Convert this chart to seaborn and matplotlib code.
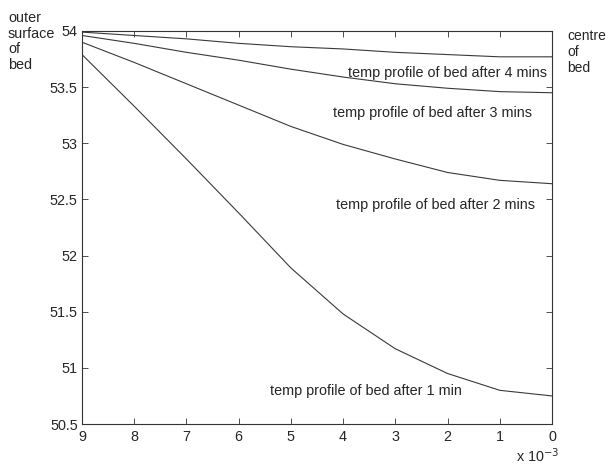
import matplotlib
matplotlib.use("Agg")
import matplotlib.pyplot as plt
import pandas as pd
import seaborn as sns

# distance from centre of bed (x 10^-3) and bed temperature at each time
depth = [9, 8, 7, 6, 5, 4, 3, 2, 1, 0]
temp_1min = [53.79, 53.33, 52.86, 52.38, 51.89, 51.48, 51.17, 50.95, 50.80, 50.75]
temp_2min = [53.90, 53.72, 53.53, 53.34, 53.15, 52.99, 52.86, 52.74, 52.67, 52.64]
temp_3min = [53.96, 53.89, 53.81, 53.74, 53.66, 53.59, 53.53, 53.49, 53.46, 53.45]
temp_4min = [53.99, 53.96, 53.93, 53.89, 53.86, 53.84, 53.81, 53.79, 53.77, 53.77]

labels = ['temp profile of bed after 1 min',
          'temp profile of bed after 2 mins',
          'temp profile of bed after 3 mins',
          'temp profile of bed after 4 mins']
label_x = [1.72, 0.32, 0.38, 0.09]
label_y = [50.79, 52.45, 53.27, 53.63]

sns.set_style("white")
plt.rcParams['font.family'] = ['Liberation Sans', 'DejaVu Sans']
fs = 10.4

fig = plt.figure(figsize=(6.09, 4.66), dpi=100)
ax = fig.add_axes([0.1346, 0.0901, 0.7718, 0.8434])

for temps in [temp_1min, temp_2min, temp_3min, temp_4min]:
    df = pd.DataFrame({'depth': depth, 'temp': temps})
    sns.lineplot(x='depth', y='temp', data=df, color='#3a3a3a',
                 linewidth=0.8, ax=ax)

for text, tx, ty in zip(labels, label_x, label_y):
    ax.text(tx, ty, text, ha='right', va='center', fontsize=fs)

ax.set_xlim(9, 0)
ax.set_ylim(50.5, 54)
ax.set_xticks(range(10))
ax.set_yticks([50.5, 51, 51.5, 52, 52.5, 53, 53.5, 54])
ax.set_yticklabels(['50.5', '51', '51.5', '52', '52.5', '53', '53.5', '54'])
ax.set_xlabel('')
ax.set_ylabel('')
ax.tick_params(direction='in', length=4, width=0.6, labelsize=fs,
               top=True, right=True, bottom=True, left=True,
               color='#333333')
ax.tick_params(axis='x', pad=4)
ax.tick_params(axis='y', pad=3)
for s in ax.spines.values():
    s.set_linewidth(0.8)
    s.set_color('#333333')
    s.set_visible(True)

fig.text(0.848, 0.022, r'x 10$^{-3}$', fontsize=fs, ha='left', va='center')
fig.text(0.013, 0.911, 'outer\nsurface\nof\nbed', fontsize=fs, ha='left',
         va='center', linespacing=1.13)
fig.text(0.932, 0.888, 'centre\nof\nbed', fontsize=fs - 0.4, ha='left',
         va='center', linespacing=1.17)

fig.savefig('out.png', dpi=100)
